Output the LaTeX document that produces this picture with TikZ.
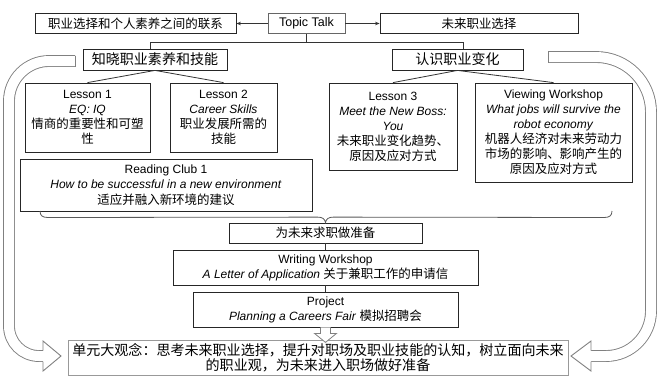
\documentclass[tikz,border=0pt]{standalone}
\usepackage{fontspec}
\setmainfont{Liberation Sans}
\newfontfamily\cjk[Scale=1.04]{Noto Sans CJK SC}
\usetikzlibrary{arrows.meta,calc}
\newcommand\zh[1]{{\cjk #1}}
\begin{document}
\begin{tikzpicture}[x=1pt,y=-1pt,
  box/.style={draw=black!85, line width=0.8pt, rectangle, inner sep=0pt, align=center, font=\fontsize{12}{15}\selectfont},
  conn/.style={draw=black!80, line width=0.8pt},
  band/.style={draw=black!50, double=white, double distance=10pt, line width=0.9pt},
  bandline/.style={draw=black!50, line width=0.9pt},
  tip/.style={-{Stealth[length=4.5pt,width=3.5pt]}},
]
\useasboundingbox (0,0) rectangle (659,376);
\fill[white] (0,0) rectangle (659,376);

% ---------- big hollow curved arrows ----------
\draw[band] (75,61) -- (49,61) .. controls (27,61) and (9,79) .. (9,101) -- (9,326)
  .. controls (9,342.6) and (22.4,356) .. (39,356) -- (43,356);
\draw[bandline] (75,55.5) -- (75,66.5);
\fill[white] (43,341) -- (61,356) -- (43,371) -- cycle;
\draw[bandline] (43,350.5) -- (43,341) -- (61,356) -- (43,371) -- (43,361.5);

\draw[band] (548,57) -- (596,57) .. controls (626.4,57) and (651,81.6) .. (651,112) -- (651,311)
  .. controls (651,335.8) and (630.8,356) .. (606,356) -- (591,356);
\draw[bandline] (548,51.5) -- (548,62.5);
\fill[white] (591,341) -- (571,356) -- (591,371) -- cycle;
\draw[bandline] (591,350.5) -- (591,341) -- (571,356) -- (591,371) -- (591,361.5);

% ---------- top row ----------
\node[box, minimum width=201pt, minimum height=20pt, font=\fontsize{12}{14}\selectfont] (b1) at (135.5,23.5) {\zh{职业选择和个人素养之间的联系}};
\node[box, draw=black!60, minimum width=77pt, minimum height=20pt, font=\fontsize{12.5}{14}\selectfont] (topic) at (306.5,23.5) {Topic Talk};
\node[box, minimum width=198pt, minimum height=20pt, font=\fontsize{12}{14}\selectfont] (b3) at (479,23.5) {\zh{未来职业选择}};
\draw[conn, tip] (topic.west) -- (b1.east);
\draw[conn, tip] (topic.east) -- (b3.west);

% ---------- second row ----------
\node[box, minimum width=144pt, minimum height=21pt, font=\fontsize{13.5}{15}\selectfont] (zx) at (155,59.5) {\zh{知晓职业素养和技能}};
\node[box, minimum width=131pt, minimum height=21pt, font=\fontsize{13.5}{15}\selectfont] (rs) at (457.5,59.5) {\zh{认识职业变化}};
\draw[conn] (topic.south) -- ++(0,8.5) coordinate (tj);
\draw[conn] ($(zx.north)+(-5,0)$) |- (tj) -| ($(rs.north)+(5.5,0)$);

% ---------- lessons ----------
\node[box, minimum width=125pt, minimum height=69pt] (L1) at (87.5,117.5)
  {Lesson 1\\ \textit{EQ: IQ}\\ \zh{情商的重要性和可塑}\\ \zh{性}};
\node[box, minimum width=107pt, minimum height=69pt] (L2) at (223.5,117.5)
  {Lesson 2\\ \textit{Career Skills}\\ \zh{职业发展所需的}\\ \zh{技能}};
\node[box, minimum width=128pt, minimum height=87pt] (L3) at (393,126.5)
  {Lesson 3\\ \textit{Meet the New Boss:}\\ \textit{You}\\ \zh{未来职业变化趋势、}\\ \zh{原因及应对方式}};
\node[box, minimum width=157pt, minimum height=99pt] (VW) at (553.5,132.5)
  {Viewing Workshop\\ \textit{What jobs will survive the}\\ \textit{robot economy}\\ \zh{机器人经济对未来劳动力}\\ \zh{市场的影响、影响产生的}\\ \zh{原因及应对方式}};
\draw[conn] (zx.south) -- (L1.north);
\draw[conn] (zx.south) -- (L2.north);
\draw[conn] (rs.south) -- (L3.north);
\draw[conn] (rs.south) -- (VW.north);

% ---------- reading club ----------
\node[box, minimum width=292pt, minimum height=52pt, font=\fontsize{12}{15.5}\selectfont] (RC) at (166,185)
  {Reading Club 1\\ \textit{How to be successful in a new environment}\\ \zh{适应并融入新环境的建议}};
\draw[conn] ($(L1.south)+(10.5,0)$) -- ($(L1.south)+(10.5,0)$ |- RC.north);

% ---------- brace, preparation ----------
\node[box, minimum width=193pt, minimum height=20pt, font=\fontsize{12}{14}\selectfont] (prep) at (325.5,233) {\zh{为未来求职做准备}};
\coordinate (bt) at (prep.north);
\draw[conn, black!65] (40,211) .. controls (40,216) and (43,217.5) .. (48,217.5) -- ($(bt)+(-8,-5.5)$)
  .. controls ($(bt)+(-2.5,-5.5)$) and ($(bt)+(-0.8,-3.5)$) .. (bt)
  .. controls ($(bt)+(0.8,-3.5)$) and ($(bt)+(2.5,-5.5)$) .. ($(bt)+(8,-5.5)$)
  -- (604,217.5) .. controls (609,217.5) and (612,216) .. (612,211);

\node[box, minimum width=305pt, minimum height=35pt, font=\fontsize{12}{15}\selectfont] (WW) at (325.5,267.5)
  {Writing Workshop\\ \textit{A Letter of Application} \zh{关于兼职工作的申请信}};
\node[box, minimum width=265pt, minimum height=35pt, font=\fontsize{12}{15}\selectfont] (PJ) at (325.5,309.5)
  {Project\\ \textit{Planning a Careers Fair} \zh{模拟招聘会}};
\draw[conn] (prep.south) -- (WW.north);
\draw[conn] (WW.south) -- (PJ.north);

% ---------- big idea ----------
\node[box, draw=black!40, minimum width=500pt, minimum height=35pt, font=\fontsize{13.5}{14.5}\selectfont] (big) at (318,357.5)
  {\zh{单元大观念：思考未来职业选择，提升对职场及职业技能的认知，树立面向未来}\\ \zh{的职业观，为未来进入职场做好准备}};

\draw[black!50, fill=white, line width=0.8pt] ($(PJ.south)+(-5,0)$) -- ++(0,6) -- ++(-6,0)
  -- ($(PJ.south)+(0,15)$) -- ($(PJ.south)+(11,6)$) -- ++(-6,0) -- ($(PJ.south)+(5,0)$);
\end{tikzpicture}
\end{document}
